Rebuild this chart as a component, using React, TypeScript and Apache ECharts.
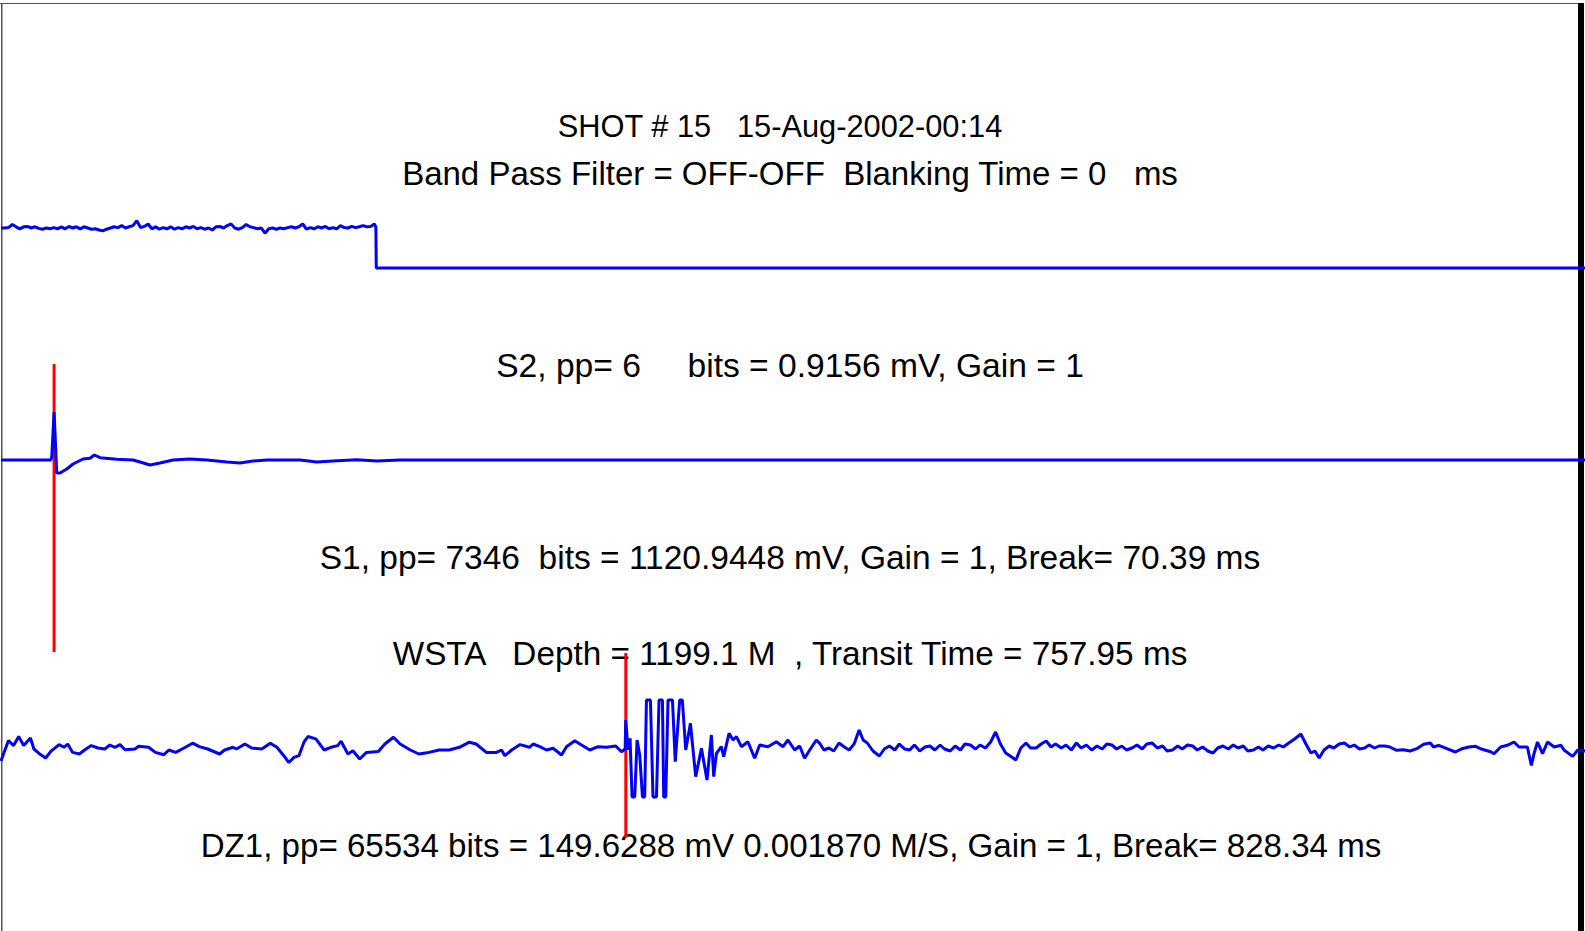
import { useEffect, useRef } from "react";
import * as echarts from "echarts";

// ---- data (time in ms, amplitude in normalised trace units) ----
const TIME_MIN = 0;
const TIME_MAX = 2100;

const s1Break = 70.39;
const dz1Break = 828.34;

// S2 (top trace): noisy high level sampled every 5 ms, then step down
const S2_SAMPLE_MS = 5;
const s2Noise = [
  1.0, 1.0, 1.01, 1.09, 1.03, 0.98, 1.03, 1.04, 1.0, 1.03,
  0.99, 0.97, 1.0, 0.98, 1.01, 0.98, 1.03, 0.98, 1.04, 1.0,
  1.03, 0.98, 1.03, 1.0, 0.97, 0.98, 0.95, 0.93, 0.97, 1.0,
  1.03, 1.01, 1.06, 1.0, 1.03, 1.06, 1.18, 1.01, 1.04, 1.1,
  0.98, 1.03, 0.97, 1.01, 0.98, 1.03, 0.97, 1.01, 0.98, 1.03,
  1.0, 1.04, 0.98, 1.01, 0.97, 1.0, 0.95, 1.03, 1.04, 1.0,
  1.06, 1.1, 1.0, 0.97, 1.01, 1.09, 1.03, 1.01, 0.98, 1.0,
  0.87, 0.98, 1.0, 0.97, 1.0, 0.98, 1.01, 1.03, 1.0, 1.03,
  1.1, 0.97, 1.01, 0.98, 1.03, 1.0, 1.04, 0.98, 1.01, 0.98,
  1.06, 1.01, 1.0, 1.04, 1.01, 1.03, 1.06, 1.03, 1.04, 1.1,
];
const s2Step = [
  [497, 1.02],
  [497.5, 0],
  [2100, 0],
];

// S1 (middle trace)
const s1Trace = [
  [0, 0], [66, 0], [67.3, 0.03], [70.4, 0.48], [73.9, -0.13], [78.3, -0.13],
  [87.2, -0.09], [95.5, -0.04], [108.8, 0.01], [118, 0.017], [123.8, 0.05],
  [131.3, 0.023], [153.4, 0.007], [175, 0], [184.3, -0.02], [197.6, -0.05],
  [210.8, -0.03], [228, 0], [250.6, 0.01], [273, 0], [299.6, -0.02],
  [316.8, -0.03], [334, -0.01], [352.6, 0], [396.3, 0], [418.8, -0.02],
  [440, -0.01], [471.8, 0.003], [498.3, -0.01], [528.8, 0], [2100, 0],
];

// DZ1 (bottom trace)
const dz1Trace = [
  [0, -0.13], [3.3, -0.06], [9.9, 0.075], [16.7, 0.024], [23.5, 0.115], [30.1, 0.024],
  [39.1, 0.1], [43.6, -0.01], [50.4, -0.054], [59.2, -0.1], [66, -0.034], [77, 0.034],
  [83.6, 0.007], [88.4, 0.04], [95, -0.044], [104, -0.06], [110.8, -0.02], [119.6, 0.024],
  [128.7, 0], [137.5, -0.01], [144.3, 0.03], [151, 0.007], [157.8, 0.034], [164.4, -0.017],
  [177.7, -0.01], [182.3, 0.017], [195.7, 0.007], [204.7, -0.044], [216, -0.067], [222.6, -0.02],
  [231.6, -0.044], [242.6, 0], [254, 0.048], [262.9, 0.014], [274.1, -0.01], [289.8, -0.06],
  [296.5, -0.02], [307.5, 0.007], [312.2, -0.01], [323.4, 0.04], [332.3, 0], [345.7, -0.01],
  [357, 0.048], [365.8, 0.007], [374.9, -0.077], [381.6, -0.145], [388.4, -0.094], [395, -0.077],
  [401.6, 0.058], [406.9, 0.115], [417.4, 0.091], [428.5, -0.02], [437.4, 0.007], [446.4, 0.024],
  [450.9, 0.068], [459.9, -0.06], [466.5, -0.027], [475.6, -0.11], [484.6, -0.044], [500.2, -0.034],
  [508.9, 0.04], [520.3, 0.108], [529.2, 0.04], [542.7, -0.02], [554, -0.06], [567.2, -0.044],
  [580.8, -0.02], [594.1, -0.02], [607.7, 0.007], [621, 0.058], [630, 0.04], [643.4, -0.044],
  [656.8, -0.044], [663.6, -0.02], [668, -0.077], [677, -0.02], [688.2, 0.034], [700.7, 0.007],
  [705.5, 0.04], [714.3, 0.013], [723.2, -0.02], [731.9, -0.003], [743.1, -0.07], [749.7, 0.013],
  [760.7, 0.073], [769.6, 0.03], [780.6, -0.02], [791.6, 0.013], [802.7, 0.007], [815, 0.02],
  [822.6, -0.037], [827.5, -0.01], [828.3, 0.28], [831.3, -0.02], [834, 0.097], [836.6, -0.49],
  [840.2, -0.49], [843.3, 0.08], [846.8, -0.07], [850.4, -0.49], [853.4, -0.49], [855.7, 0.48],
  [861, 0.48], [864.4, -0.49], [869, -0.49], [872.4, 0.48], [876.9, 0.48], [878.6, -0.49],
  [881.3, -0.49], [884.3, 0.48], [890.2, 0.48], [893.9, -0.137], [899.8, 0.48], [903.3, 0.48],
  [907.8, -0.02], [914, 0.247], [921, -0.287], [928.6, -0.003], [936, -0.32], [941.8, 0.13],
  [944.9, -0.287], [948.5, -0.053], [955, 0.013], [958.1, -0.087], [965.2, 0.147], [970.5, 0.08],
  [975, 0.113], [981.6, 0.013], [990.3, 0.063], [999.2, -0.103], [1005.8, 0.03], [1016.8, 0.013],
  [1028, 0.063], [1036.7, 0.013], [1043.3, 0.08], [1052.2, -0.02], [1058.8, 0.02], [1065.4, -0.103],
  [1072.1, -0.02], [1080.9, 0.08], [1085.4, 0.047], [1091, -0.02], [1097.6, 0], [1104, -0.03],
  [1111, 0.05], [1118, 0.01], [1124.4, -0.02], [1131, 0.04], [1137.7, 0.18], [1143, 0.08],
  [1148.5, 0.05], [1156, -0.03], [1164.5, -0.08], [1171, -0.01], [1177.9, 0.02], [1185, -0.02],
  [1191, 0.04], [1198, -0.01], [1204.7, -0.02], [1211, 0.03], [1218, -0.03], [1225, 0.01],
  [1231.5, 0.02], [1238, -0.02], [1245, 0.03], [1251, -0.01], [1258.4, -0.03], [1265, 0.02],
  [1272, -0.02], [1278, 0.04], [1285.2, 0.03], [1292, -0.01], [1298, 0.03], [1305.2, 0],
  [1312, 0.06], [1318.6, 0.16], [1325, 0.04], [1332, -0.05], [1338, -0.08], [1345.5, -0.12],
  [1352, 0.0], [1358.9, 0.05], [1365, 0.0], [1372.3, 0], [1379, 0.04], [1385.7, 0.07],
  [1392, 0.01], [1398, 0.04], [1405.7, 0], [1412, 0.03], [1419, -0.02], [1425.8, 0.05],
  [1432, 0.0], [1439, 0.03], [1446, -0.02], [1453, 0.02], [1460, -0.01], [1466, 0.04],
  [1472.8, 0.03], [1479, -0.01], [1486, 0.02], [1492, -0.02], [1499.5, 0], [1506, 0.03],
  [1513, -0.01], [1519, 0.04], [1526.3, 0.05], [1533, 0.0], [1540, 0.02], [1546, -0.03],
  [1553.1, -0.02], [1560, 0.02], [1566, -0.01], [1573, 0.03], [1579.9, 0.02], [1586, -0.02],
  [1593, 0.01], [1600, -0.03], [1606.8, -0.05], [1613, 0.0], [1620, 0.02], [1627, -0.01],
  [1633.6, 0.03], [1640, 0.0], [1647, 0.02], [1653, -0.03], [1660.4, -0.02], [1667, 0.01],
  [1673, -0.02], [1680, 0.02], [1687.1, 0], [1694, 0.03], [1700, 0.01], [1707.3, 0.05],
  [1715, 0.09], [1723.3, 0.14], [1730, 0.04], [1736.7, -0.05], [1742, -0.03], [1747.5, -0.1],
  [1754, -0.02], [1760.9, 0.02], [1767, 0.0], [1774, 0.04], [1781, 0.05], [1788, 0.01],
  [1794, 0.03], [1801, -0.01], [1807.8, 0], [1814, 0.03], [1821, 0.0], [1827, 0.02],
  [1834.5, 0.02], [1841.4, 0.01], [1850.3, -0.023], [1859.2, -0.017], [1868, -0.03], [1877, -0.007],
  [1886, 0.037], [1894.9, 0.05], [1899.2, 0.01], [1905.9, 0.027], [1917, -0.007], [1928.1, -0.04],
  [1936.9, -0.007], [1945.9, 0.01], [1954.8, 0.017], [1961.4, -0.007], [1974.8, -0.037], [1979.4, -0.057],
  [1988.1, 0.01], [1997, 0.027], [2005.9, 0.06], [2012.5, 0.01], [2023.6, 0.01], [2028.9, -0.174],
  [2032.4, -0.057], [2037, 0.06], [2043.7, -0.057], [2050.3, 0.06], [2059.2, 0.01], [2068.2, 0.027],
  [2072.6, -0.023], [2083.6, -0.084], [2090.2, -0.023], [2100, -0.03],
];

// break markers (red): [time, top], [time, bottom]
const s1Marker = [
  [s1Break, 0.96],
  [s1Break, -1.92],
];
const dz1Marker = [
  [dz1Break, 0.95],
  [dz1Break, -0.89],
];

const headerLines = [
  "SHOT # 15   15-Aug-2002-00:14",
  "Band Pass Filter = OFF-OFF  Blanking Time = 0   ms",
];
const s2Label = "S2, pp= 6     bits = 0.9156 mV, Gain = 1";
const s1Label = "S1, pp= 7346  bits = 1120.9448 mV, Gain = 1, Break= 70.39 ms";
const wellLabel = "WSTA   Depth = 1199.1 M  , Transit Time = 757.95 ms";
const dz1Label = "DZ1, pp= 65534 bits = 149.6288 mV 0.001870 M/S, Gain = 1, Break= 828.34 ms";

export default function App() {
  const ref = useRef<HTMLDivElement>(null);

  useEffect(() => {
    document.body.style.margin = "0";
    if (!ref.current) return;
    const chart = echarts.init(ref.current, undefined, { renderer: "svg" });

    const s2Trace: number[][] = s2Noise.map((v, i) => [i * S2_SAMPLE_MS, v]).concat(s2Step);

    const fontFamily = '"Liberation Sans", Arial, Helvetica, sans-serif';
    const txt = (text: string, x: number, y: number, fontSize: number) => ({
      type: "text",
      x,
      y,
      z: 1,
      style: { text, fill: "#000", align: "center", verticalAlign: "middle", fontSize, fontFamily },
    });

    const xAx = (gridIndex: number) => ({
      type: "value",
      gridIndex,
      min: TIME_MIN,
      max: TIME_MAX,
      show: false,
    });

    const blue = { color: "#0000ff", width: 3 };
    const red = { color: "#ff0000", width: 3 };

    chart.setOption({
      animation: false,
      backgroundColor: "#ffffff",
      grid: [
        { left: 1, right: 0, top: 188, height: 100 },
        { left: 1, right: 0, top: 360, height: 300 },
        { left: 1, right: 0, top: 648, height: 200 },
      ],
      xAxis: [xAx(0), xAx(1), xAx(2)],
      yAxis: [
        { type: "value", gridIndex: 0, min: -0.5, max: 2, show: false },
        { type: "value", gridIndex: 1, min: -2, max: 1, show: false },
        { type: "value", gridIndex: 2, min: -1, max: 1, show: false },
      ],
      graphic: [
        { type: "rect", z: 0, shape: { x: 0, y: 3, width: 1580, height: 1 }, style: { fill: "#555555" } },
        { type: "rect", z: 0, shape: { x: 1, y: 3, width: 1.5, height: 928 }, style: { fill: "#555555" } },
        { type: "rect", z: 0, shape: { x: 1578, y: 3, width: 6, height: 928 }, style: { fill: "#000000" } },
        txt(headerLines[0], 780, 126, 30.8),
        txt(headerLines[1], 790, 173, 33),
        txt(s2Label, 790, 365, 33.6),
        txt(s1Label, 790, 557, 33.5),
        txt(wellLabel, 790, 653, 33.3),
        txt(dz1Label, 791, 845, 33.1),
      ],
      series: [
        {
          name: "S1 break",
          type: "line",
          xAxisIndex: 1,
          yAxisIndex: 1,
          data: s1Marker,
          symbol: "none",
          lineStyle: red,
          z: 3,
        },
        {
          name: "DZ1 break",
          type: "line",
          xAxisIndex: 2,
          yAxisIndex: 2,
          data: dz1Marker,
          symbol: "none",
          lineStyle: red,
          z: 3,
        },
        {
          name: "S2",
          type: "line",
          xAxisIndex: 0,
          yAxisIndex: 0,
          data: s2Trace,
          symbol: "none",
          lineStyle: blue,
          z: 4,
        },
        {
          name: "S1",
          type: "line",
          xAxisIndex: 1,
          yAxisIndex: 1,
          data: s1Trace,
          symbol: "none",
          lineStyle: blue,
          z: 4,
        },
        {
          name: "DZ1",
          type: "line",
          xAxisIndex: 2,
          yAxisIndex: 2,
          data: dz1Trace,
          symbol: "none",
          lineStyle: blue,
          z: 4,
        },
      ],
    });

    return () => chart.dispose();
  }, []);

  return (
    <div
      ref={ref}
      style={{ position: "absolute", left: 0, top: 0, width: 1585, height: 931 }}
    />
  );
}
